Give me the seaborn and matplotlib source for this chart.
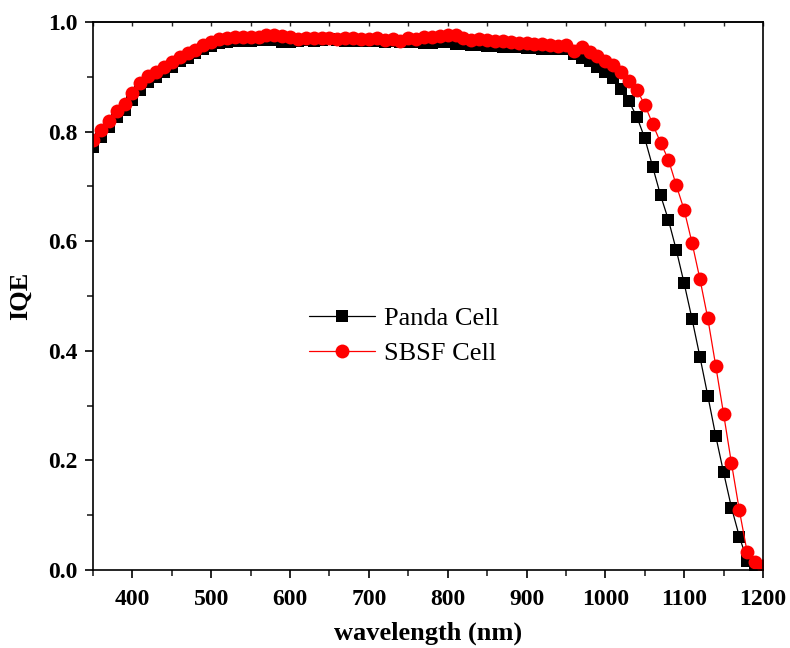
import matplotlib
matplotlib.use("Agg")
import matplotlib.pyplot as plt
import seaborn as sns
import pandas as pd
import numpy as np
from matplotlib.ticker import MultipleLocator

# wavelength grid (nm)
wl_sbsf = list(range(350, 1201, 10))
wl_panda = list(range(350, 1191, 10))

iqe_sbsf = [
    0.785, 0.803, 0.820, 0.838, 0.850, 0.870, 0.888, 0.902, 0.909, 0.917,
    0.927, 0.936, 0.943, 0.949, 0.958, 0.964, 0.969, 0.971, 0.973, 0.972,
    0.972, 0.973, 0.976, 0.977, 0.975, 0.972, 0.969, 0.970, 0.971, 0.970,
    0.971, 0.969, 0.970, 0.970, 0.969, 0.969, 0.970, 0.968, 0.969, 0.966,
    0.970, 0.969, 0.972, 0.972, 0.975, 0.977, 0.976, 0.970, 0.968, 0.969,
    0.967, 0.966, 0.965, 0.964, 0.962, 0.961, 0.960, 0.959, 0.958, 0.956,
    0.958, 0.947, 0.955, 0.946, 0.938, 0.929, 0.922, 0.908, 0.892, 0.876,
    0.849, 0.814, 0.780, 0.749, 0.702, 0.657, 0.597, 0.531, 0.459, 0.373,
    0.285, 0.195, 0.109, 0.032, 0.014, 0.008,
]

iqe_panda = [
    0.772, 0.790, 0.808, 0.826, 0.840, 0.858, 0.876, 0.890, 0.899, 0.908,
    0.918, 0.928, 0.935, 0.943, 0.951, 0.957, 0.961, 0.963, 0.965, 0.966,
    0.966, 0.967, 0.968, 0.967, 0.964, 0.963, 0.966, 0.967, 0.966, 0.968,
    0.969, 0.968, 0.966, 0.966, 0.966, 0.965, 0.965, 0.964, 0.966, 0.963,
    0.964, 0.963, 0.962, 0.962, 0.963, 0.963, 0.960, 0.960, 0.958, 0.958,
    0.957, 0.956, 0.955, 0.955, 0.954, 0.953, 0.952, 0.951, 0.950, 0.950,
    0.950, 0.942, 0.934, 0.928, 0.918, 0.909, 0.897, 0.877, 0.855, 0.827,
    0.788, 0.736, 0.684, 0.639, 0.584, 0.523, 0.458, 0.389, 0.318, 0.245,
    0.178, 0.114, 0.061, 0.017, 0.005,
]

panda = pd.DataFrame({"wl": wl_panda, "iqe": iqe_panda})
sbsf = pd.DataFrame({"wl": wl_sbsf, "iqe": iqe_sbsf})

sns.set_style("ticks")
plt.rcParams["font.family"] = ["Liberation Serif", "DejaVu Serif"]
plt.rcParams["text.color"] = "black"
plt.rcParams["axes.labelcolor"] = "black"

fig = plt.figure(figsize=(7.9, 6.48), dpi=100)
ax = fig.add_axes([0.1177, 0.1204, 0.8481, 0.8457])

sns.lineplot(data=panda, x="wl", y="iqe", ax=ax, color="black", lw=0.9,
             marker="s", markersize=8.5, markeredgewidth=0, label="Panda Cell")
sns.lineplot(data=sbsf, x="wl", y="iqe", ax=ax, color="red", lw=0.9,
             marker="o", markersize=10, markeredgewidth=0, label="SBSF Cell")

ax.set_xlim(350, 1200)
ax.set_ylim(0, 1.0)
ax.xaxis.set_major_locator(MultipleLocator(100))
ax.xaxis.set_minor_locator(MultipleLocator(50))
ax.yaxis.set_major_locator(MultipleLocator(0.2))
ax.yaxis.set_minor_locator(MultipleLocator(0.1))
ax.yaxis.set_major_formatter(matplotlib.ticker.FormatStrFormatter("%.1f"))

for s in ax.spines.values():
    s.set_linewidth(1.2)
    s.set_color("black")
    s.set_visible(True)

ax.tick_params(which="major", direction="out", length=6, width=1.2,
               labelsize=17, colors="black", pad=5)
ax.tick_params(axis="x", which="major", pad=8)
ax.tick_params(which="minor", direction="out", length=4, width=1.2)
for lab in ax.get_xticklabels() + ax.get_yticklabels():
    lab.set_fontweight("bold")

top = ax.secondary_xaxis("top")
top.xaxis.set_major_locator(MultipleLocator(50))
top.tick_params(direction="in", length=3, width=1.0, labeltop=False)
top.spines["top"].set_linewidth(1.2)

ax.set_xlabel("wavelength (nm)", fontsize=19, fontweight="bold", labelpad=8)
ax.set_ylabel("IQE", fontsize=19, fontweight="bold", labelpad=12)

leg = ax.legend(loc="center left", bbox_to_anchor=(0.307, 0.427), frameon=False,
                fontsize=19, handlelength=2.5, handletextpad=0.35,
                labelspacing=0.45, borderaxespad=0, labelcolor="black")

fig.savefig("out.png", dpi=100)
